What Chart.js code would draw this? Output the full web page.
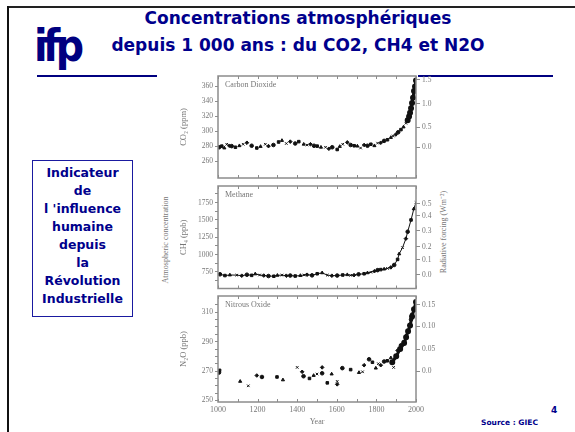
<!DOCTYPE html>
<html>
<head>
<meta charset="utf-8">
<script src="https://cdn.jsdelivr.net/npm/chart.js@4"></script>
<style>
  body { margin: 0; background: #fff; }
  #slide { position: relative; width: 575px; height: 432px; overflow: hidden; background: #fff; }
  #topline { position: absolute; left: 7px; top: 6px; width: 568px; height: 2px; background: #222; }
  #leftline { position: absolute; left: 7px; top: 6px; width: 2px; height: 426px; background: #111; }
  #title { position: absolute; left: 80px; width: 436px; top: 5px; text-align: center; color: #00008c;
    font: bold 17px "DejaVu Sans", sans-serif; line-height: 27px; }
  #logo { position: absolute; left: 34px; top: 20px; color: #000080; font: bold 44px "DejaVu Sans", sans-serif;
    letter-spacing: -5px; transform: scaleX(0.9); transform-origin: left top; }
  .rule { position: absolute; top: 75px; height: 2px; background: #000080; }
  #side { position: absolute; left: 32px; top: 160px; width: 101px; height: 157px; border: 1px solid #1a1aa0;
    color: #00008c; font: bold 12.5px "DejaVu Sans", sans-serif; text-align: center; line-height: 18px; padding-top: 3px; box-sizing: border-box; }
  canvas { position: absolute; }
  .vlab { position: absolute; color: #777; font: 8px "Liberation Serif", serif; white-space: nowrap;
    transform: translate(-50%, -50%) rotate(-90deg); }
  #pagenum { position: absolute; left: 551px; top: 405px; color: #00008c; font: bold 9px "DejaVu Sans", sans-serif; }
  #source { position: absolute; left: 481px; top: 418px; color: #00008c; font: bold 7.5px "DejaVu Sans", sans-serif; }
</style>
</head>
<body>
<div id="slide">
  <div id="topline"></div>
  <div id="leftline"></div>
  <div id="logo">ifp</div>
  <div id="title">Concentrations atmosphériques<br>depuis 1 000 ans : du CO2, CH4 et N2O</div>
  <div class="rule" style="left:37px;width:120px"></div>
  <div class="rule" style="left:418px;width:135px"></div>
  <div id="side">Indicateur<br>de<br>l 'influence<br>humaine<br>depuis<br>la<br>Révolution<br>Industrielle</div>
  <div class="vlab" style="left:165px;top:240px">Atmospheric concentration</div>
  <div class="vlab" style="left:442px;top:232px">Radiative forcing (Wm⁻²)</div>
  <canvas id="co2" width="300" height="117" style="left:150px;top:68px"></canvas>
  <canvas id="ch4" width="300" height="117" style="left:150px;top:178px"></canvas>
  <canvas id="n2o" width="300" height="139" style="left:150px;top:288px"></canvas>
  <div id="pagenum">4</div>
  <div id="source">Source : GIEC</div>
</div>
<script>
// carbon dioxide (ppm), ice cores + atmospheric record
var co2Years = [1006, 1019, 1032, 1044, 1057, 1069, 1088, 1108, 1127, 1146, 1170, 1196, 1215, 1239, 1255, 1280, 1306, 1323, 1345, 1365, 1390, 1408, 1433, 1450, 1467, 1485, 1501, 1520, 1543, 1560, 1577, 1602, 1615, 1630, 1653, 1670, 1688, 1704, 1720, 1738, 1755, 1772, 1790, 1806, 1822, 1839, 1856, 1873, 1885, 1898, 1910, 1924, 1937, 1949, 1958];
var co2Values = [279, 280.5, 278, 283, 281, 280.5, 279, 281, 283, 285, 281, 278, 280, 283, 280.5, 282, 286, 288, 284, 286.5, 284, 286.5, 283, 282, 283, 281, 280.5, 279, 279, 277, 279, 276, 280, 283, 285.5, 282, 281, 280.5, 278, 282, 281, 283, 281, 284.5, 285, 287.5, 289, 292, 294, 296, 299, 302.5, 306, 311, 314];
var co2RecentYears = [1958, 1965, 1970, 1975, 1980, 1985, 1990, 1995, 2000];
var co2RecentValues = [315, 320, 325, 331, 338, 345, 354, 360, 368];
var co2Ticks = [260, 280, 300, 320, 340, 360];
var co2Forcing = [279, 306, 337, 369];
var co2ForcingLabels = ['0.0', '0.5', '1.0', '1.5'];

// methane (ppb)
var ch4Years = [1010, 1035, 1060, 1095, 1120, 1146, 1170, 1188, 1210, 1231, 1255, 1282, 1300, 1323, 1345, 1365, 1390, 1416, 1435, 1450, 1475, 1501, 1526, 1552, 1575, 1602, 1630, 1653, 1670, 1687, 1710, 1738, 1755, 1772, 1790, 1806, 1822, 1839, 1856, 1873, 1890, 1907, 1915, 1932, 1949, 1958, 1975, 1989, 2000];
var ch4Values = [715, 697, 705, 703, 695, 709, 700, 720, 705, 697, 690, 687, 700, 703, 695, 697, 690, 697, 705, 709, 700, 723, 736, 703, 695, 697, 705, 709, 700, 703, 715, 723, 736, 745, 760, 775, 783, 790, 800, 815, 850, 930, 1010, 1100, 1230, 1330, 1500, 1660, 1750];
var ch4Ticks = [625, 750, 875, 1000, 1125, 1250, 1375, 1500, 1625, 1750, 1875];
var ch4Labelled = [750, 1000, 1250, 1500, 1750];
var ch4Forcing = [710, 925, 1115, 1345, 1560, 1735];
var ch4ForcingLabels = ['0.0', '0.1', '0.2', '0.3', '0.4', '0.5'];

// nitrous oxide (ppb)
var n2oYears = [1005, 1008, 1112, 1153, 1196, 1222, 1298, 1328, 1400, 1425, 1432, 1462, 1483, 1500, 1526, 1526, 1552, 1574, 1602, 1602, 1628, 1670, 1712, 1730, 1738, 1763, 1780, 1797, 1810, 1822, 1839, 1855, 1873, 1887, 1907, 1924, 1940, 1949, 1958, 1966, 1975, 1980, 1990, 2000];
var n2oValues = [269, 270.5, 263, 260, 267, 266, 266, 264, 272.5, 269.5, 266.5, 265, 267, 268, 272.5, 268.5, 262, 268, 263, 261, 272, 271, 269, 269.5, 274, 278, 276, 272, 275, 274, 276.5, 277, 279, 272.5, 284, 287.5, 290, 294, 297, 301, 305, 308.5, 312, 316];
var n2oRecentYears = [1880, 1900, 1920, 1940, 1950, 1960, 1970, 1980, 1990, 2000];
var n2oRecentValues = [276, 280, 285, 289, 293, 297, 301, 307, 312, 317];
var n2oTicks = [250, 255, 260, 265, 270, 275, 280, 285, 290, 295, 300, 305, 310, 315];
var n2oLabelled = [250, 270, 290, 310];
var n2oForcing = [270, 285, 300.5, 315];
var n2oForcingLabels = ['0.0', '0.05', '0.10', '0.15'];

var yearTicksLabelled = [1000, 1200, 1400, 1600, 1800, 2000];

var inkGrey = '#777';
var frameGrey = '#8c8c8c';
var markerStyles = ['circle', 'rect', 'triangle', 'crossRot', 'rectRot'];

var panelFrame = {
  id: 'panelFrame',
  afterDraw: function (chart, args, opts) {
    var ctx = chart.ctx;
    var a = chart.chartArea;
    var xs = chart.scales.x;
    ctx.save();
    ctx.strokeStyle = frameGrey;
    ctx.lineWidth = 1.5;
    ctx.strokeRect(a.left, a.top, a.right - a.left, a.bottom - a.top);
    ctx.lineWidth = 1;
    xs.ticks.forEach(function (t) {
      var px = Math.round(xs.getPixelForValue(t.value)) + 0.5;
      ctx.beginPath();
      ctx.moveTo(px, a.top);
      ctx.lineTo(px, a.top + 3);
      ctx.moveTo(px, a.bottom);
      ctx.lineTo(px, a.bottom - 3);
      ctx.stroke();
    });
    ctx.fillStyle = inkGrey;
    ctx.font = '8px "Liberation Serif"';
    ctx.textBaseline = 'top';
    ctx.fillText(opts.name, a.left + 7, a.top + 5);
    ctx.restore();
  }
};

function toPoints(xs, ys) {
  return xs.map(function (x, i) { return { x: x, y: ys[i] }; });
}

function makePanel(id, o) {
  var tickFont = { family: 'Liberation Serif', size: 7.5 };
  new Chart(document.getElementById(id), {
    type: 'scatter',
    data: {
      datasets: [
        {
          data: toPoints(o.years, o.values),
          showLine: o.joined,
          borderColor: '#111',
          borderWidth: 1,
          backgroundColor: '#111',
          pointRadius: 1.8,
          pointStyle: function (c) { return markerStyles[c.dataIndex % markerStyles.length]; }
        },
        {
          data: toPoints(o.recentYears, o.recentValues),
          showLine: true,
          borderColor: '#111',
          borderWidth: 3,
          backgroundColor: '#111',
          pointRadius: 1.5,
          tension: 0.3
        }
      ]
    },
    options: {
      responsive: false,
      animation: false,
      layout: { padding: { top: 8, left: 0, right: 0, bottom: 0 } },
      plugins: { legend: { display: false }, tooltip: { enabled: false }, panelFrame: { name: o.name } },
      scales: {
        x: {
          type: 'linear',
          min: 1000,
          max: 2000,
          afterFit: function (s) { s.height = o.bottomAxis ? 25 : 4; },
          ticks: {
            display: o.bottomAxis,
            stepSize: 100,
            autoSkip: false,
            maxRotation: 0,
            padding: 3,
            color: inkGrey,
            font: { family: 'Liberation Serif', size: 8 },
            callback: function (v) { return yearTicksLabelled.indexOf(v) >= 0 ? String(v) : ''; }
          },
          grid: { display: false, drawTicks: false, tickLength: 0 },
          border: { display: false },
          title: { display: o.bottomAxis, text: 'Year', color: inkGrey, padding: 0,
            font: { family: 'Liberation Serif', size: 8 } }
        },
        y: {
          position: 'left',
          min: o.min,
          max: o.max,
          afterBuildTicks: function (s) { s.ticks = o.ticks.map(function (v) { return { value: v }; }); },
          afterFit: function (s) { s.width = 68; },
          ticks: {
            autoSkip: false,
            padding: 2,
            color: inkGrey,
            font: tickFont,
            callback: function (v) { return o.labelled.indexOf(v) >= 0 ? String(v) : ''; }
          },
          grid: { drawOnChartArea: false, tickLength: 3, color: frameGrey },
          border: { display: false },
          title: { display: true, text: o.unit, color: inkGrey, padding: { top: 29, bottom: 0 },
            font: { family: 'Liberation Serif', size: 8.5 } }
        },
        y2: {
          position: 'right',
          min: o.min,
          max: o.max,
          afterBuildTicks: function (s) { s.ticks = o.forcing.map(function (v) { return { value: v }; }); },
          afterFit: function (s) { s.width = 34; },
          ticks: {
            autoSkip: false,
            padding: 2,
            color: inkGrey,
            font: tickFont,
            callback: function (v, i) { return o.forcingLabels[i]; }
          },
          grid: { drawOnChartArea: false, tickLength: 4, color: frameGrey },
          border: { display: false }
        }
      }
    },
    plugins: [panelFrame]
  });
}

makePanel('co2', {
  name: 'Carbon Dioxide', unit: 'CO₂ (ppm)', years: co2Years, values: co2Values,
  recentYears: co2RecentYears, recentValues: co2RecentValues, joined: false,
  min: 238, max: 374, ticks: co2Ticks, labelled: co2Ticks,
  forcing: co2Forcing, forcingLabels: co2ForcingLabels, bottomAxis: false
});
makePanel('ch4', {
  name: 'Methane', unit: 'CH₄ (ppb)', years: ch4Years, values: ch4Values,
  recentYears: [], recentValues: [], joined: true,
  min: 510, max: 1990, ticks: ch4Ticks, labelled: ch4Labelled,
  forcing: ch4Forcing, forcingLabels: ch4ForcingLabels, bottomAxis: false
});
makePanel('n2o', {
  name: 'Nitrous Oxide', unit: 'N₂O (ppb)', years: n2oYears, values: n2oValues,
  recentYears: n2oRecentYears, recentValues: n2oRecentValues, joined: false,
  min: 249, max: 321, ticks: n2oTicks, labelled: n2oLabelled,
  forcing: n2oForcing, forcingLabels: n2oForcingLabels, bottomAxis: true
});
</script>
</body>
</html>
